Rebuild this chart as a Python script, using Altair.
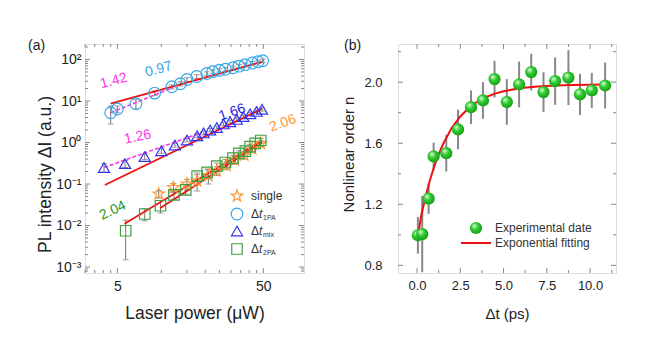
import altair as alt
import pandas as pd

FONT = "Liberation Sans"
GRAY = "#777777"

# ---------------- Panel (a) data ----------------
circ_P = [4.5, 5.0, 6.7, 9.0, 11.8, 13.5, 15.0, 17.5, 20.5, 22.5, 25.0, 27.5, 31.0, 34.0, 37.5, 42.0, 46.0, 49.5]
circ_I = [5.2, 6.4, 8.6, 15.5, 22, 26, 33, 39, 46, 51, 55, 58, 63, 69, 75, 82, 88, 93]
circ_E = [2.4, 1.2, 2.2, 2.0, 2.5, 3, 3.5, 4, 4.5, 5, 5, 5.5, 6, 6.5, 7, 7.5, 8, 8.5]

tri_P = [4.05, 5.64, 7.7, 10.0, 12.4, 15.0, 17.6, 19.5, 21.6, 24.0, 26.7, 29.6, 32.9, 36.5, 40.6, 45.0, 49.0]
tri_I = [0.25, 0.31, 0.46, 0.63, 0.87, 1.15, 1.45, 1.7, 2.0, 2.3, 2.8, 3.15, 3.6, 4.2, 4.9, 5.6, 6.3]
tri_E = [0.06, 0.06, 0.07, 0.08, 0.1, 0.12, 0.14, 0.16, 0.18, 0.2, 0.25, 0.3, 0.35, 0.4, 0.45, 0.5, 0.6]

sq_P = [5.7, 7.7, 9.87, 12.2, 14.7, 17.6, 20.6, 24, 27.5, 31, 34, 37.7, 40.6, 44, 48]
sq_I = [0.0075, 0.019, 0.03, 0.055, 0.072, 0.155, 0.19, 0.27, 0.33, 0.42, 0.55, 0.62, 0.8, 0.95, 1.12]
sq_E = [0.006, 0.006, 0.01, 0.012, 0.015, 0.03, 0.04, 0.05, 0.06, 0.07, 0.08, 0.09, 0.1, 0.12, 0.14]

st_P = [9.6, 12.1, 15.0, 17.6, 21.0, 24.0, 28, 32, 37, 42, 48]
st_I = [0.058, 0.083, 0.10, 0.118, 0.16, 0.21, 0.28, 0.38, 0.5, 0.7, 0.95]
st_E = [0.012, 0.02, 0.03, 0.05, 0.06, 0.05, 0.06, 0.08, 0.1, 0.12, 0.15]

series_names = ["single", "1PA", "mix", "2PA"]
series_colors = ["#ff9933", "#36a8e8", "#3333ee", "#3f9f3f"]
series_shapes = ["M0,-1L0.235,-0.32L0.95,-0.31L0.38,0.12L0.59,0.81L0,0.39L-0.59,0.81L-0.38,0.12L-0.95,-0.31L-0.235,-0.32Z",
                 "circle", "triangle-up", "square"]
series_sizes = [150, 110, 130, 110]

# fit lines (endpoints)
red_fits = {
    "c": ([4.5, 49.0], [8.6, 88.0]),
    "t": ([4.1, 49.0], [0.095, 6.5]),
    "s": ([5.6, 49.0], [0.011, 1.1]),
    "st": ([9.8, 49.0], [0.026, 1.0]),
}
mag_fits = {
    "c": ([4.5, 12.0], [5.2, 21.0]),
    "t": ([4.05, 19.0], [0.25, 1.75]),
}

lab_text = ["1.42", "0.97", "1.66", "1.26", "2.06", "2.04"]
lab_P = [4.72, 9.57, 30.6, 6.9, 68.0, 4.65]
lab_I = [30.6, 58.0, 5.3, 1.36, 2.9, 0.023]
lab_col = ["#ff33ee", "#36a8e8", "#2222dd", "#ff33ee", "#ff9933", "#229922"]
lab_ang = [345, 345, 340, 348, 340, 335]

xa_major = [5, 50]
xa_minor = [3.0, 3.5, 4.0, 4.5, 10, 15, 20, 25, 30, 35, 40, 45]
ya_major = [1e-3, 1e-2, 1e-1, 1, 10, 100]
ya_minor = [m * d for d in [1e-4, 1e-3, 1e-2, 1e-1, 1, 10, 100] for m in range(2, 10)]

# ---------------- Panel (b) data ----------------
b_t = [0.05, 0.3, 0.67, 0.96, 1.69, 2.37, 3.12, 3.81, 4.48, 5.19, 5.9, 6.6, 7.31, 7.98, 8.75, 9.42, 10.1, 10.87]
b_n = [0.997, 1.005, 1.237, 1.514, 1.535, 1.69, 1.836, 1.88, 2.02, 1.87, 1.985, 2.066, 1.935, 2.007, 2.03, 1.92, 1.946, 1.978]
b_e = [0.12, 0.25, 0.1, 0.09, 0.12, 0.13, 0.11, 0.12, 0.12, 0.15, 0.15, 0.12, 0.13, 0.155, 0.18, 0.135, 0.115, 0.15]

fit_t = [0.05, 0.25, 0.5, 0.75, 1.0, 1.25, 1.5, 2.0, 2.5, 3.0, 3.5, 4.0, 4.5, 5.0, 6.0, 7.0, 8.0, 9.0, 10.0, 10.9]
fit_n = [0.99, 1.13, 1.253, 1.359, 1.45, 1.527, 1.593, 1.699, 1.775, 1.832, 1.873, 1.903, 1.925, 1.941,
         1.9615, 1.972, 1.978, 1.981, 1.983, 1.984]

xb_major = [0, 2.5, 5, 7.5, 10]
xb_minor = [1.25, 3.75, 6.25, 8.75, 11.25]
yb_major = [0.8, 1.2, 1.6, 2.0]
yb_minor = [1.0, 1.4, 1.8, 2.2]

# ---------------- build ----------------
WA, HA = 219, 229
WB, HB = 218, 229

rows = []
for name, P, I, E in [("single", st_P, st_I, st_E), ("1PA", circ_P, circ_I, circ_E),
                      ("mix", tri_P, tri_I, tri_E), ("2PA", sq_P, sq_I, sq_E)]:
    for p, i, e in zip(P, I, E):
        rows.append({"s": name, "P": p, "I": i, "lo": max(i - e, 1e-4), "hi": i + e})
dfa = pd.DataFrame(rows)

xs = alt.Scale(type="log", domain=[3.0, 95.0], nice=False)
ys = alt.Scale(type="log", domain=[7.2e-4, 236.0], nice=False)

axis_common = dict(grid=False, ticks=False, domain=False, labelFont=FONT, titleFont=FONT,
                   labelColor="#222", titleColor="#222", titleFontWeight="normal", titleBaseline="middle")

ax_xa = alt.Axis(values=xa_major, title="Laser power (μW)", labelPadding=6, titleY=40,
                 labelFontSize=14, titleFontSize=17.5, labelExpr="datum.value", **axis_common)
ax_ya = alt.Axis(values=ya_major, title="PL intensity ΔI (a.u.)", labelPadding=4, titleX=-40, titleY=130,
                 labelFontSize=14, titleFontSize=17.5,
                 labelExpr="'10' + (datum.value < 0.5 ? '⁻' : '') + ['⁰','¹','²','³'][round(abs(log(datum.value)/LN10))]",
                 **axis_common)

XA = lambda f: alt.X(f, scale=xs, axis=ax_xa)
YA = lambda f: alt.Y(f, scale=ys, axis=ax_ya)

err_a = alt.Chart(dfa).mark_rule(color=GRAY, strokeWidth=1).encode(x=XA("P:Q"), y=YA("lo:Q"), y2="hi:Q")
cap_lo = alt.Chart(dfa).mark_tick(color=GRAY, orient="horizontal", size=6, thickness=1).encode(x=XA("P:Q"), y=YA("lo:Q"))
cap_hi = alt.Chart(dfa).mark_tick(color=GRAY, orient="horizontal", size=6, thickness=1).encode(x=XA("P:Q"), y=YA("hi:Q"))

fit_rows = []
for k, (P, I) in red_fits.items():
    for p, i in zip(P, I):
        fit_rows.append({"g": k, "P": p, "I": i})
red_df = pd.DataFrame(fit_rows)
mag_rows = []
for k, (P, I) in mag_fits.items():
    for p, i in zip(P, I):
        mag_rows.append({"g": k, "P": p, "I": i})
mag_df = pd.DataFrame(mag_rows)

red_a = alt.Chart(red_df).mark_line(color="#ee1111", strokeWidth=1.8).encode(x=XA("P:Q"), y=YA("I:Q"), detail="g:N")
mag_a = alt.Chart(mag_df).mark_line(color="#ff33ee", strokeWidth=1.6, strokeDash=[4, 2]).encode(
    x=XA("P:Q"), y=YA("I:Q"), detail="g:N")

pts_a = alt.Chart(dfa).mark_point(filled=False, strokeWidth=1.2, opacity=1).encode(
    x=XA("P:Q"), y=YA("I:Q"),
    color=alt.Color("s:N", scale=alt.Scale(domain=series_names, range=series_colors), legend=None),
    shape=alt.Shape("s:N", scale=alt.Scale(domain=series_names, range=series_shapes), legend=None),
    size=alt.Size("s:N", scale=alt.Scale(domain=series_names, range=series_sizes), legend=None),
    order=alt.Order("ord:Q"),
).transform_calculate(ord="indexof(['single','1PA','mix','2PA'], datum.s)")

lab_df = pd.DataFrame({"t": lab_text, "P": lab_P, "I": lab_I, "c": lab_col, "a": lab_ang})
labs_a = alt.Chart(lab_df).mark_text(font=FONT, fontSize=14, align="center", baseline="middle").encode(
    x=XA("P:Q"), y=YA("I:Q"), text="t:N", color=alt.Color("c:N", scale=None), angle=alt.Angle("a:Q", scale=None))


def vticks(vals, Y, w, length):
    d = pd.DataFrame({"P": vals, "I": vals, "t": vals, "n": vals})
    f = "I:Q" if Y is YA else "n:Q"
    left = alt.Chart(d).mark_rule(color="#888", strokeWidth=1).encode(
        x=alt.value(0), x2=alt.value(length), y=Y(f))
    right = alt.Chart(d).mark_rule(color="#888", strokeWidth=1).encode(
        x=alt.value(w - length), x2=alt.value(w), y=Y(f))
    return [left, right]


def hticks(vals, X, h, length):
    d = pd.DataFrame({"P": vals, "I": vals, "t": vals, "n": vals})
    f = "P:Q" if X is XA else "t:Q"
    bottom = alt.Chart(d).mark_rule(color="#888", strokeWidth=1).encode(
        y=alt.value(h), y2=alt.value(h - length), x=X(f))
    top = alt.Chart(d).mark_rule(color="#888", strokeWidth=1).encode(
        y=alt.value(0), y2=alt.value(length), x=X(f))
    return [bottom, top]


ya_minor_in = [v for v in ya_minor if 7.2e-4 <= v <= 236]
ticks_a = (vticks(ya_major, YA, WA, 5) + vticks(ya_minor_in, YA, WA, 3) +
           hticks(xa_major, XA, HA, 5) + hticks(xa_minor, XA, HA, 3))

# legend (a)
leg_y = [152, 170, 187, 205]
leg_df = pd.DataFrame({"s": series_names, "ly": leg_y})
leg_sym = alt.Chart(leg_df).mark_point(filled=False, strokeWidth=1.2, opacity=1).encode(
    x=alt.value(152), y=alt.Y("ly:Q", scale=None),
    color=alt.Color("s:N", scale=alt.Scale(domain=series_names, range=series_colors), legend=None),
    shape=alt.Shape("s:N", scale=alt.Scale(domain=series_names, range=series_shapes), legend=None),
    size=alt.Size("s:N", scale=alt.Scale(domain=series_names, range=series_sizes), legend=None),
)
leg_txt1 = alt.Chart(pd.DataFrame({"t": ["single"], "ly": [leg_y[0]]})).mark_text(
    font=FONT, fontSize=12, align="left", baseline="middle", color="#333").encode(
    x=alt.value(166), y=alt.Y("ly:Q", scale=None), text="t:N")
sub_df = pd.DataFrame({"sub": ["1PA", "mix", "2PA"], "ly": leg_y[1:]})
leg_delta = alt.Chart(sub_df).mark_text(font=FONT, fontSize=12, align="left", baseline="middle", color="#333",
                                        text="Δ").encode(x=alt.value(166), y=alt.Y("ly:Q", scale=None))
leg_t = alt.Chart(sub_df).mark_text(font=FONT, fontSize=12, fontStyle="italic", align="left", baseline="middle",
                                    color="#333", text="t").encode(x=alt.value(174), y=alt.Y("ly:Q", scale=None))
leg_sub = alt.Chart(sub_df).mark_text(font=FONT, fontSize=7, align="left", baseline="middle", color="#333",
                                      dy=4).encode(x=alt.value(178), y=alt.Y("ly:Q", scale=None), text="sub:N")

tag_a = alt.Chart(pd.DataFrame({"t": ["(a)"]})).mark_text(font=FONT, fontSize=14, align="left", baseline="middle",
                                                          color="#222").encode(
    x=alt.value(-57), y=alt.value(2), text="t:N")

chart_a = alt.layer(*ticks_a, err_a, cap_lo, cap_hi, red_a, mag_a, pts_a, labs_a,
                    leg_sym, leg_txt1, leg_delta, leg_t, leg_sub, tag_a).properties(width=WA, height=HA)

# ---------------- Panel (b) ----------------
dfb = pd.DataFrame({"t": b_t, "n": b_n, "lo": [a - e for a, e in zip(b_n, b_e)], "hi": [a + e for a, e in zip(b_n, b_e)]})
fitb = pd.DataFrame({"t": fit_t, "n": fit_n})

xsb = alt.Scale(domain=[-1.1, 11.5], nice=False, zero=False)
ysb = alt.Scale(domain=[0.75, 2.25], nice=False, zero=False)

ax_xb = alt.Axis(values=xb_major, format=".1f", title="Δt (ps)", labelPadding=6, titleY=40,
                 labelFontSize=13, titleFontSize=15, **axis_common)
ax_yb = alt.Axis(values=yb_major, format=".1f", title="Nonlinear order n", labelPadding=16, titleX=-50, titleY=110,
                 labelFontSize=13, titleFontSize=15, **axis_common)
XB = lambda f: alt.X(f, scale=xsb, axis=ax_xb)
YB = lambda f: alt.Y(f, scale=ysb, axis=ax_yb)

sphere = alt.RadialGradient(
    gradient="radial", x1=0.35, y1=0.3, r1=0.0, x2=0.45, y2=0.45, r2=0.6,
    stops=[alt.GradientStop(color="#e8ffe8", offset=0.0), alt.GradientStop(color="#33cc33", offset=0.45),
           alt.GradientStop(color="#119911", offset=1.0)])

err_b = alt.Chart(dfb).mark_rule(color="#888888", strokeWidth=2).encode(x=XB("t:Q"), y=YB("lo:Q"), y2="hi:Q")
pts_b = alt.Chart(dfb).mark_point(shape="circle", filled=True, size=150, fill=sphere, opacity=1,
                                  strokeWidth=0).encode(x=XB("t:Q"), y=YB("n:Q"))
fit_line_b = alt.Chart(fitb).mark_line(color="#ee1111", strokeWidth=2).encode(x=XB("t:Q"), y=YB("n:Q"))

ticks_b = (vticks(yb_major, YB, WB, 5) + vticks(yb_minor, YB, WB, 3) +
           hticks(xb_major, XB, HB, 5) + hticks(xb_minor, XB, HB, 3))

legb_pt = alt.Chart(pd.DataFrame({"k": [1]})).mark_point(shape="circle", filled=True, size=150, fill=sphere,
                                                          opacity=1, strokeWidth=0).encode(
    x=alt.value(78), y=alt.value(184))
legb_line = alt.Chart(pd.DataFrame({"k": [1]})).mark_rule(color="#ee1111", strokeWidth=2).encode(
    x=alt.value(63), x2=alt.value(93), y=alt.value(199))
legb_txt = alt.Chart(pd.DataFrame({"t": ["Experimental date", "Exponential fitting"], "ly": [184, 199]})).mark_text(
    font=FONT, fontSize=12, align="left", baseline="middle", color="#333").encode(
    x=alt.value(97), y=alt.Y("ly:Q", scale=None), text="t:N")
tag_b = alt.Chart(pd.DataFrame({"t": ["(b)"]})).mark_text(font=FONT, fontSize=14, align="left", baseline="middle",
                                                          color="#222").encode(
    x=alt.value(-54), y=alt.value(2), text="t:N")

chart_b = alt.layer(*ticks_b, err_b, fit_line_b, pts_b, legb_pt, legb_line, legb_txt, tag_b).properties(
    width=WB, height=HB)

chart = alt.hconcat(chart_a, chart_b, spacing=35).properties(
    padding={"left": 19, "top": 30, "right": 5, "bottom": 5}
).configure_view(stroke="#888888", strokeWidth=1).configure(background="white")

chart.save("out.html", embed_options={"renderer": "svg", "actions": False})
